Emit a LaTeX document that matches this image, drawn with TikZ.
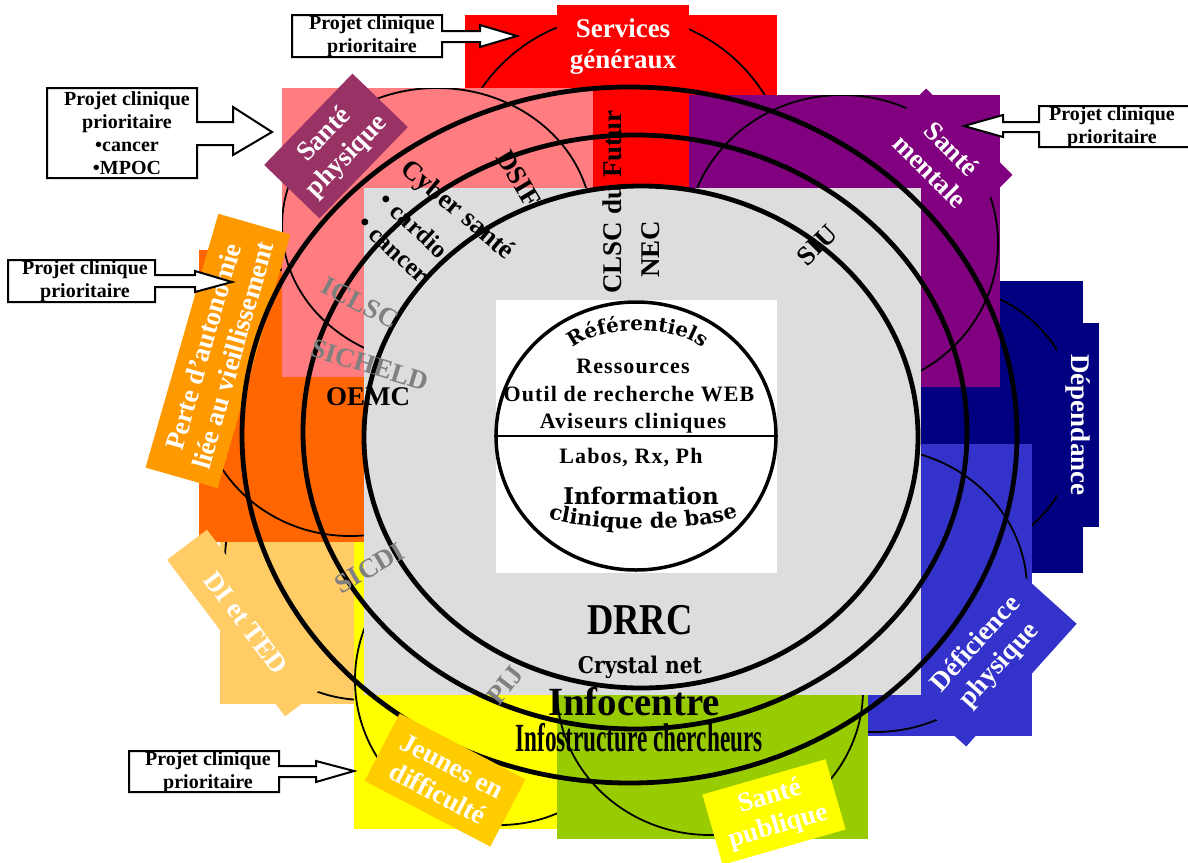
\documentclass[tikz,border=0pt]{standalone}
\usepackage{fontspec}
\setmainfont{Liberation Serif}
\newfontfamily\wafont{DejaVu Serif}
\newfontfamily\spfont[LetterSpace=5]{Liberation Serif}
\usetikzlibrary{shapes.geometric,decorations.text}
\definecolor{cRed}{HTML}{FF0000}
\definecolor{cPink}{HTML}{FF7C80}
\definecolor{cPurple}{HTML}{800080}
\definecolor{cNavy}{HTML}{000080}
\definecolor{cBlue}{HTML}{3333CC}
\definecolor{cGreen}{HTML}{99CC00}
\definecolor{cYellow}{HTML}{FFFF00}
\definecolor{cLtOrange}{HTML}{FFCC66}
\definecolor{cDkOrange}{HTML}{FF6600}
\definecolor{cOrange}{HTML}{FF9900}
\definecolor{cPlum}{HTML}{993366}
\definecolor{cJeune}{HTML}{FFCC00}
\definecolor{cGray}{HTML}{DDDDDD}
\definecolor{cGrayText}{HTML}{808080}
\begin{document}
\begin{tikzpicture}[x=1pt,y=-1pt,
  thincirc/.style={line width=1.8pt},
  thickring/.style={line width=4.8pt},
  lab/.style={text=white, font=\fontsize{27}{31}\selectfont\bfseries, align=center, inner sep=0pt},
  intext/.style={font=\fontsize{27}{30}\selectfont\bfseries, inner sep=0pt},
  smalltext/.style={font=\fontsize{25}{28}\selectfont\bfseries, inner sep=0pt},
  graytext/.style={intext, text=cGrayText},
  pbox/.style={draw=black, line width=2pt, fill=white, line join=miter},
  ptext/.style={font=\fontsize{20}{23}\selectfont\bfseries, align=center, inner sep=0pt},
  circtext/.style={font=\spfont\fontsize{22}{24}\selectfont\bfseries, inner sep=0pt},
  watext/.style={font=\wafont\bfseries, inner sep=0pt},
  bigtext/.style={font=\fontsize{40}{40}\selectfont\bfseries, inner sep=0pt},
]
\useasboundingbox (0,0) rectangle (1188,862);
\fill[white] (0,0) rectangle (1188,862);

% ---------- sector blocks with their circles ----------
\fill[cRed] (465,15) rectangle (777,188);
\begin{scope}\clip (465,15) rectangle (777,188);
  \draw[thincirc] (621,184) circle [radius=169pt];\end{scope}

\fill[cNavy] (850,281) rectangle (1083,573);
\begin{scope}\clip (850,281) rectangle (1083,573);
  \draw[thincirc] (941,423) circle [radius=137pt];\end{scope}

\fill[cPurple] (689,95) rectangle (1000,387);
\begin{scope}\clip (689,95) rectangle (1000,387);
  \draw[thincirc] (842,243) ellipse [x radius=156pt, y radius=148pt];\end{scope}

\fill[cBlue] (720,444) rectangle (1032,736);
\begin{scope}\clip (720,444) rectangle (1032,736);
  \draw[thincirc] (875,590) ellipse [x radius=152pt, y radius=142pt];\end{scope}

\fill[cYellow] (354,537) rectangle (650,829);
\begin{scope}\clip (354,537) rectangle (650,829);
  \draw[thincirc] (500,680) circle [radius=145pt];\end{scope}

\fill[cGreen] (557,695) rectangle (868,839);
\begin{scope}\clip (557,695) rectangle (868,839);
  \draw[thincirc] (710,690) ellipse [x radius=153pt, y radius=145pt];\end{scope}

\fill[cLtOrange] (220,542) rectangle (354,704);
\begin{scope}\clip (220,542) rectangle (354,704);
  \draw[thincirc] (365,560) circle [radius=140pt];\end{scope}

\fill[cDkOrange] (199,250) rectangle (364,542);
\begin{scope}\clip (199,250) rectangle (364,542);
  \draw[thincirc] (350,395) ellipse [x radius=150pt, y radius=141pt];\end{scope}

\fill[cPink] (282,88) rectangle (593,377);
\begin{scope}\clip (282,88) rectangle (593,377);
  \draw[thincirc] (437,226) ellipse [x radius=155pt, y radius=138pt];\end{scope}

% ---------- sector labels ----------
\node[lab, fill=cRed, minimum width=132pt, minimum height=83pt] (serv) at (623,46.5) {Services\\généraux};
\node[lab, fill=cPlum, rotate=46, minimum width=127pt, minimum height=77pt] (sphys) at (336,146) {Santé\\physique};
\node[lab, fill=cPurple, rotate=-45, minimum width=122pt, minimum height=80pt] (smen) at (941,160) {Santé\\mentale};
\node[lab, fill=cOrange, rotate=74, minimum width=264pt, minimum height=75pt] (perte) at (218,351) {Perte d’autonomie\\liée au vieillissement};
\node[lab, fill=cLtOrange, rotate=-53, minimum width=196pt, minimum height=50pt] (dited) at (246,623) {DI et TED};
\node[lab, fill=cNavy, rotate=-90, minimum width=204pt, minimum height=42pt] (dep) at (1078,425) {Dépendance};
\node[lab, fill=cBlue, rotate=48, minimum width=165pt, minimum height=90pt] (defp) at (988,655) {Déficience\\physique};

% ---------- centre ----------
\fill[cGray] (364,188) rectangle (921,695);
\fill[white] (496,300) rectangle (777,573);
\node[ellipse, draw, line width=3.5pt, minimum width=280pt, minimum height=268pt] (core) at (636,436) {};
\draw[line width=2pt] (core.west) -- (core.east);

% ---------- thick rings ----------
\draw[thickring] (641,437) ellipse [x radius=277pt, y radius=251pt];
\draw[thickring] (635,432) ellipse [x radius=332pt, y radius=297pt];
\draw[thickring] (629.5,435) ellipse [x radius=387.5pt, y radius=348pt];

% ---------- bottom labels over rings ----------
\node[lab, fill=cJeune, rotate=-27.6, minimum width=142pt, minimum height=76pt] (jeunes) at (445,780) {Jeunes en\\difficulté};
\node[lab, fill=cYellow, rotate=16, minimum width=128pt, minimum height=73pt] (spub) at (774,812) {Santé\\publique};

% ---------- inner ring texts ----------
\node[intext, rotate=-40] (cyber) at (457,211) {Cyber santé};
\node[smalltext, rotate=-43] (cardio) at (414,225) {• cardio};
\node[smalltext, rotate=-43] (cancer) at (392,251) {• cancer};
\node[intext, rotate=-59] (dsif) at (519,179) {DSIF};
\node[graytext, rotate=-28] (iclsc) at (360,303) {ICLSC};
\node[graytext, rotate=-17] (sicheld) at (370,365) {SICHELD};
\node[intext] (oemc) at (368,397) {OEMC};
\node[graytext, rotate=30] (sicdi) at (370,568) {SICDI};
\node[graytext, rotate=52] (pij) at (505,685) {PIJ};
\node[intext, rotate=90] (clsc) at (612,202) {CLSC du Futur};
\node[intext, rotate=90] (nec) at (651,249) {NEC};
\node[intext, rotate=45] (siu) at (817,245) {SIU};

% ---------- core texts ----------
\coordinate (refA) at (571,350);
\coordinate (refB) at (704,350);
\path[decorate, decoration={text along path, text align=center,
   text format delimiters={|}{|},
   text={|\wafont\fontsize{20}{21}\selectfont\bfseries|Référentiels}}]
   (refA) .. controls (595,324) and (680,324) .. (refB);
\node[circtext] (ress) at (633,366) {Ressources};
\node[circtext] (outil) at (629,394) {Outil de recherche WEB};
\node[circtext] (avis) at (633,423) {Aviseurs cliniques};
\node[circtext] (labos) at (631,458) {Labos, Rx, Ph};
\node[watext, font=\wafont\fontsize{23}{24}\selectfont\bfseries] (info) at (641,496) {Information};
\coordinate (clA) at (528,512);
\coordinate (clB) at (758,510);
\path[decorate, decoration={text along path, text align=center,
   text format delimiters={|}{|},
   text={|\wafont\fontsize{21}{22}\selectfont\bfseries|clinique de base}}]
   (clA) .. controls (580,534) and (700,536) .. (clB);

\node[bigtext, font=\fontsize{44}{44}\selectfont\bfseries] (drrc) at (640,620) {\scalebox{0.83}[1]{DRRC}};
\node[watext, font=\wafont\fontsize{23}{24}\selectfont\bfseries] (crys) at (640,667) {\scalebox{0.88}[1]{Crystal net}};
\node[bigtext] (infoc) at (634,702) {\scalebox{0.97}[1]{Infocentre}};
\node[bigtext] (infos) at (639,738) {\scalebox{0.58}[1]{Infostructure chercheurs}};

% ---------- "Projet clinique prioritaire" callouts ----------
\draw[pbox] (292,15) -- (442,15) -- (442,31) -- (480,31) -- (480,25) -- (517,36) -- (480,47) -- (480,42) -- (442,42) -- (442,57) -- (292,57) -- cycle;
\node[ptext] (p1) at (372,36) {Projet clinique\\prioritaire};

\draw[pbox] (47,88) -- (197,88) -- (197,122) -- (233,122) -- (233,107) -- (272,132) -- (233,155) -- (233,145) -- (197,145) -- (197,178) -- (47,178) -- cycle;
\node[ptext] (p2) at (127,133) {Projet clinique\\prioritaire\\•cancer\\•MPOC};

\draw[pbox] (8,260) -- (155,260) -- (155,275) -- (195,275) -- (195,271) -- (232,282) -- (195,292) -- (195,287) -- (155,287) -- (155,302) -- (8,302) -- cycle;
\node[ptext] (p3) at (85,281) {Projet clinique\\prioritaire};

\draw[pbox] (1195,106) -- (1039,106) -- (1039,122) -- (1003,122) -- (1003,115) -- (964,126) -- (1003,137) -- (1003,132) -- (1039,132) -- (1039,147) -- (1195,147) -- cycle;
\node[ptext] (p4) at (1112,127) {Projet clinique\\prioritaire};

\draw[pbox] (129,751) -- (279,751) -- (279,766) -- (316,766) -- (316,761) -- (354,771) -- (316,782) -- (316,777) -- (279,777) -- (279,792) -- (129,792) -- cycle;
\node[ptext] (p5) at (208,772) {Projet clinique\\prioritaire};
\end{tikzpicture}
\end{document}
